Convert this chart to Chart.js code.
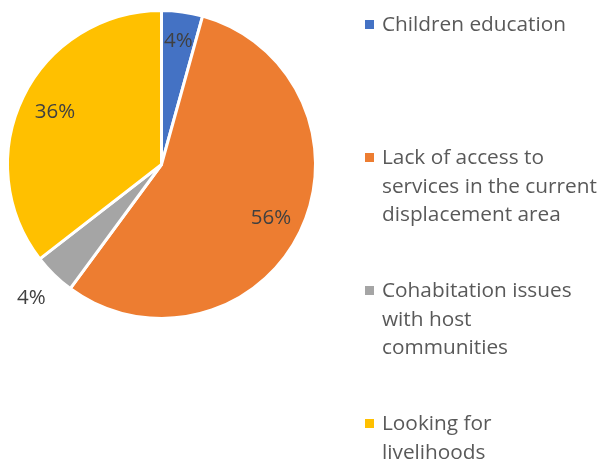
<!DOCTYPE html>
<html>
<head>
<meta charset="utf-8">
<script src="https://cdn.jsdelivr.net/npm/chart.js@4/dist/chart.umd.min.js"></script>
<style>
  body { margin: 0; background: #fff; }
  #wrap { position: relative; width: 602px; height: 459px; }
  #legend {
    position: absolute; left: 365px; top: 9px;
    font-family: "Open Sans", Lato, sans-serif; font-size: 20.8px; color: #595959;
    line-height: 28.7px;
  }
  .item { position: relative; height: 133px; padding-left: 17px; white-space: nowrap; }
  .box { position: absolute; left: 0; top: 11px; width: 9px; height: 9px; }
</style>
</head>
<body>
<div id="wrap">
  <canvas id="pieChart"></canvas>
  <div id="legend"></div>
</div>
<script>
const categories = [
  ["Children education"],
  ["Lack of access to", "services in the current", "displacement area"],
  ["Cohabitation issues", "with host", "communities"],
  ["Looking for", "livelihoods"]
];
const shares = [4.3, 55.8, 4.4, 35.5];
const colors = ["#4472C4", "#ED7D31", "#A5A5A5", "#FFC000"];

// where each percentage sits, as a fraction of the radius
const labelRadius = [0.81, 0.79, 1.21, 0.77];

const pieLabels = {
  id: "pieLabels",
  afterDatasetsDraw(chart) {
    const ctx = chart.ctx;
    const meta = chart.getDatasetMeta(0);
    const total = shares.reduce((a, b) => a + b, 0);
    ctx.save();
    ctx.font = "20.5px 'Open Sans', Lato, sans-serif";
    ctx.fillStyle = "#404040";
    ctx.textAlign = "center";
    ctx.textBaseline = "middle";
    meta.data.forEach((arc, i) => {
      const mid = (arc.startAngle + arc.endAngle) / 2;
      const r = arc.outerRadius * labelRadius[i];
      const x = arc.x + Math.cos(mid) * r;
      const y = arc.y + Math.sin(mid) * r;
      ctx.fillText(Math.round(shares[i] / total * 100) + "%", x, y);
    });
    ctx.restore();
  }
};

new Chart(document.getElementById("pieChart").getContext("2d"), {
  type: "pie",
  data: {
    labels: categories,
    datasets: [{
      data: shares,
      backgroundColor: colors,
      borderColor: "#ffffff",
      borderWidth: 3
    }]
  },
  options: {
    responsive: true,
    maintainAspectRatio: false,
    animation: false,
    layout: { padding: { left: 6, top: 9, right: 285, bottom: 139 } },
    plugins: {
      legend: { display: false },
      tooltip: { enabled: false }
    }
  },
  plugins: [pieLabels]
});

// legend
const legendDiv = document.getElementById("legend");
categories.forEach((lines, i) => {
  const item = document.createElement("div");
  item.className = "item";
  item.innerHTML = `<span class="box" style="background:${colors[i]}"></span>` + lines.join("<br>");
  legendDiv.appendChild(item);
});
</script>
</body>
</html>
